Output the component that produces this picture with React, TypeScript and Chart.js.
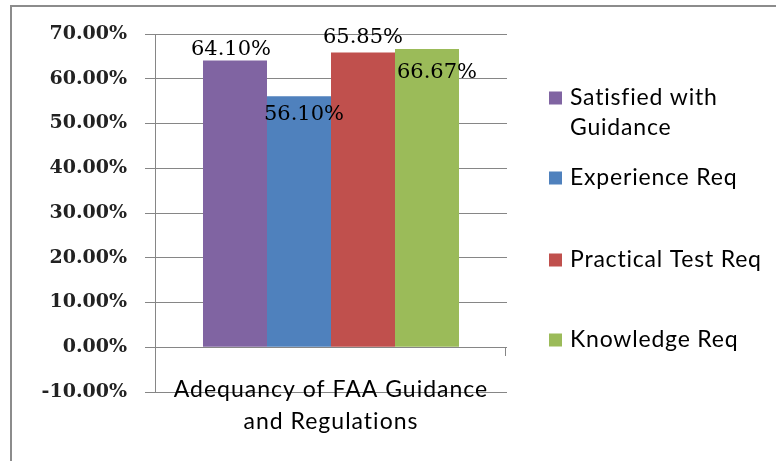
import React, { useEffect, useRef } from "react";
import { Chart, registerables } from "chart.js";

Chart.register(...registerables);

const categories: string[][] = [["Adequancy of FAA Guidance", "and Regulations"]];
const seriesNames: string[][] = [
  ["Satisfied with", "Guidance"],
  ["Experience Req"],
  ["Practical Test Req"],
  ["Knowledge Req"],
];
const seriesValues: number[] = [64.1, 56.1, 65.85, 66.67];
const seriesColors: string[] = ["#8064A2", "#4F81BD", "#C0504D", "#9BBB59"];
const yMin = -10;
const yMax = 70;
const yStep = 10;

// label placement (styling): offset of label centre from bar top / bar centre
const labelDy: number[] = [-11, 18, -15, 24];
const labelDx: number[] = [-4, 5, 0, 10];
// legend rows (styling)
const legendRowY: number[] = [98, 178, 260, 340];

const overlayPlugin = {
  id: "overlay",
  beforeDatasetsDraw(chart: any) {
    const ctx = chart.ctx;
    ctx.save();
    // category labels (drawn here because the scale clips labels above its box)
    const xs = chart.scales.x;
    ctx.font = '23px "Lato"';
    (ctx as any).letterSpacing = "1px";
    ctx.fillStyle = "#000";
    ctx.textAlign = "center";
    ctx.textBaseline = "middle";
    (chart.data.labels as string[][]).forEach((lines, i) => {
      const cx = xs.getPixelForTick(i);
      lines.forEach((line, j) => {
        ctx.fillText(line, cx, chart.chartArea.bottom - 2 + j * 32);
      });
    });
    ctx.restore();
  },
  afterDatasetsDraw(chart: any) {
    const ctx = chart.ctx;
    ctx.save();
    // data labels
    ctx.font = '21px "DejaVu Serif"';
    ctx.fillStyle = "#000";
    ctx.textAlign = "center";
    ctx.textBaseline = "middle";
    chart.data.datasets.forEach((ds: any, i: number) => {
      const el = chart.getDatasetMeta(i).data[0];
      if (!el) return;
      const v = ds.data[0] as number;
      ctx.fillText(v.toFixed(2) + "%", el.x + labelDx[i], el.y + labelDy[i]);
    });
    // small tick at right end of the zero line
    const y0 = chart.scales.y.getPixelForValue(0);
    ctx.strokeStyle = "#868686";
    ctx.lineWidth = 1;
    ctx.beginPath();
    ctx.moveTo(Math.round(chart.chartArea.right) - 1.5, Math.round(y0));
    ctx.lineTo(Math.round(chart.chartArea.right) - 1.5, Math.round(y0) + 9);
    ctx.stroke();
    // legend
    ctx.textAlign = "left";
    ctx.font = '23px "Lato"';
    (ctx as any).letterSpacing = "0.8px";
    chart.data.datasets.forEach((ds: any, i: number) => {
      const cy = legendRowY[i];
      ctx.fillStyle = seriesColors[i];
      ctx.fillRect(549, cy - 6.5, 13, 13);
      ctx.fillStyle = "#000";
      seriesNames[i].forEach((line, j) => {
        ctx.fillText(line, 570, cy + j * 30);
      });
    });
    ctx.restore();
  },
};

export default function App() {
  const ref = useRef<HTMLCanvasElement | null>(null);
  useEffect(() => {
    if (!ref.current) return;
    const chart = new Chart(ref.current, {
      type: "bar",
      data: {
        labels: categories,
        datasets: seriesValues.map((v, i) => ({
          label: seriesNames[i].join(" "),
          data: [v],
          backgroundColor: seriesColors[i],
          borderWidth: 0,
          categoryPercentage: 0.7273,
          barPercentage: 1,
        })),
      },
      options: {
        responsive: false,
        animation: false,
        layout: { padding: { left: 0, right: 269, top: 34, bottom: 0 } },
        plugins: {
          legend: { display: false },
          title: { display: false },
          tooltip: { enabled: false },
        },
        scales: {
          x: {
            grid: { display: false, drawTicks: false },
            border: { display: false },
            ticks: { display: false },
            afterFit(scale: any) {
              scale.height = 69;
            },
          },
          y: {
            min: yMin,
            max: yMax,
            grid: { color: "#868686", lineWidth: 1, tickLength: 10, drawTicks: true },
            border: { display: true, color: "#868686", width: 1 },
            ticks: {
              stepSize: yStep,
              padding: 18,
              color: "#222",
              font: { family: "DejaVu Serif", size: 19, weight: "bold" },
              callback: (v: any) => Number(v).toFixed(2) + "%",
            },
            afterFit(scale: any) {
              scale.width = 155;
            },
          },
        },
      },
      plugins: [overlayPlugin],
    });
    return () => chart.destroy();
  }, []);
  return (
    <div
      style={{
        position: "fixed",
        left: 0,
        top: 0,
        width: 776,
        height: 461,
        overflow: "hidden",
        background: "#fff",
      }}
    >
      <div
        style={{
          position: "absolute",
          left: 10,
          top: 5,
          width: 900,
          height: 700,
          border: "2px solid #8c8c8c",
        }}
      />
      <canvas
        ref={ref}
        width={776}
        height={461}
        style={{ position: "absolute", left: 0, top: 0 }}
      />
    </div>
  );
}
